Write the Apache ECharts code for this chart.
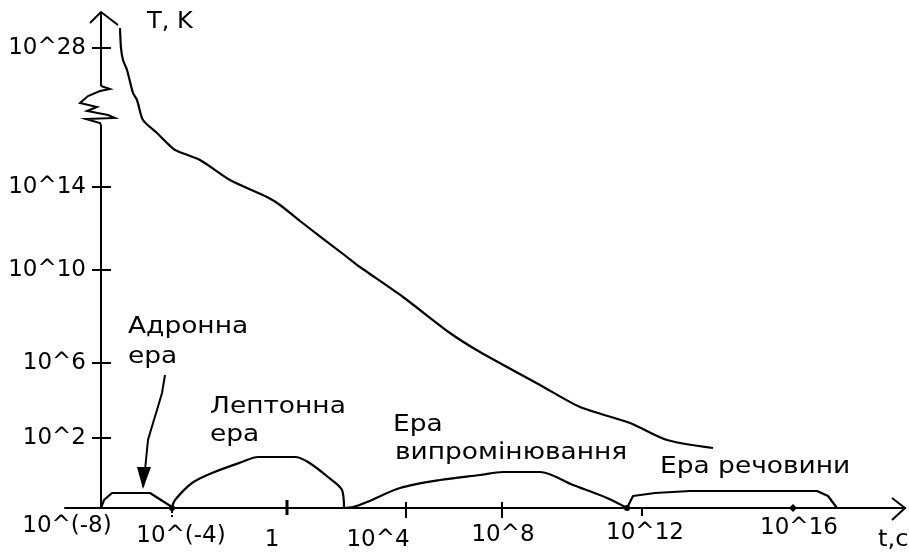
<!DOCTYPE html>
<html><head><meta charset="utf-8">
<script src="https://cdn.jsdelivr.net/npm/echarts@6/dist/echarts.min.js"></script>
<style>html,body{margin:0;padding:0;background:#fff}#c{width:909px;height:560px}</style>
</head><body><div id="c"></div>
<script>
// ---- data (nominal drawing scale of the hand-drawn log-log sketch) ----
const xTickValues = [0, 71, 186, 305, 401, 541, 692];
const xTickLabels = ['10^(-8)', '10^(-4)', '1', '10^4', '10^8', '10^12', '10^16'];
const yTickValues = [70, 145, 238, 321, 460];
const yTickLabels = ['10^2', '10^6', '10^10', '10^14', '10^28'];

// temperature T(t)
const tempX = [19, 20, 22, 26, 32, 36, 42, 56, 66, 74, 99, 129, 166, 179, 199, 246, 259, 302, 349, 379, 439, 479, 529, 566, 612];
const tempY = [480, 460, 448, 438, 415, 408, 388, 375, 365, 358, 348, 328, 311, 303, 287, 251, 241, 211, 175, 156, 123, 101, 85, 68, 60];

// eras
const hadronX = [0, 3, 11, 49, 71];
const hadronY = [0, 8, 15, 15, 1];
const leptonX = [71, 74, 91, 111, 141, 157, 194, 207, 227, 241, 243];
const leptonY = [1, 8, 25, 35, 46, 51, 51, 46, 31, 18, 0];
const radiationX = [243, 252, 266, 299, 339, 379, 402, 439, 472, 506, 526];
const radiationY = [0, 1, 6, 20, 28, 33, 36, 36, 23, 10, 0];
const matterX = [526, 532, 554, 589, 716, 727, 736];
const matterY = [0, 12, 15, 17, 17, 12, 0];

const eraLabels = ['Адронна', 'ера', 'Лептонна', 'ера', 'Ера', 'випромінювання', 'Ера речовини'];
const eraLabelX = [27, 27, 109, 109, 292, 294, 559];
const eraLabelY = [181, 151, 101, 73, 83, 55, 41];

const pointerX = [64, 61, 56, 52, 47, 46, 44, 42];
const pointerY = [133, 115, 98, 85, 68, 58, 38, 21];

const yAxisTitle = 'T, K';
const xAxisTitle = 't,c';

// ---- chart ----
const FONT = 'DejaVu Sans';
const INK = '#000';
const zip = (a, b) => a.map((v, i) => [v, b[i]]);
const curve = (name, xs, ys, smooth) => ({
  type: 'line', name, data: zip(xs, ys), symbol: 'none', showSymbol: false, smooth: smooth || false,
  lineStyle: { color: '#000', width: 2.2 }, clip: false, z: 3, silent: true
});

const xShift = [[-34, 0], [9, 10], [-15, 14], [-28, 14], [1, 9], [3, 7], [6, 2]];
const rich = {};
xShift.forEach(([dx, dy], i) => {
  rich['l' + i] = {
    fontFamily: FONT, fontSize: 23, color: INK,
    padding: [dy, dx < 0 ? -2 * dx : 0, 0, dx > 0 ? 2 * dx : 0]
  };
});

function renderDecor(params, api) {
  const P = (x, y) => api.coord([x, y]);
  const ch = [];
  const seg = (a, b, w, dash) => ch.push({ type: 'line', shape: { x1: a[0], y1: a[1], x2: b[0], y2: b[1] },
    style: { stroke: '#000', lineWidth: w || 2, lineDash: dash || null } });
  const poly = (pts, w) => ch.push({ type: 'polyline', shape: { points: pts }, style: { stroke: '#000', lineWidth: w || 2, fill: null } });
  const text = (str, p, sx, align, va) => ch.push({ type: 'text', x: p[0], y: p[1], scaleX: sx,
    style: { text: str, fontFamily: FONT, fontSize: 23, fill: INK, align: align || 'left', verticalAlign: va || 'middle',
      textAlign: align || 'left', textVerticalAlign: va || 'middle' } });

  // y axis with break
  seg(P(0, 0), P(0, 383));
  seg(P(0, 422), P(0, 496));
  poly([P(0, 422), P(9, 419), P(-1, 417), P(-13, 412), P(-21, 405), P(-4, 401), P(-14, 397), P(7, 393), P(14, 390), P(-15, 389), P(-1, 385), P(0, 383)], 2);
  // arrows (open chevrons)
  poly([P(-11, 485), P(0, 496), P(17, 483)], 2);
  poly([P(791, 10), P(804, 0), P(791, -12)], 2);
  // y ticks
  yTickValues.forEach(v => seg(P(-9, v), P(10, v)));
  // x ticks
  xTickValues.forEach((v, i) => {
    if (i === 1) {
      ch.push({ type: 'circle', shape: { cx: P(v, 0)[0], cy: P(v, 0)[1], r: 3 }, style: { fill: '#000' } });
      seg(P(v, -3), P(v, -10), 2, [2, 2]);
    } else if (i === 2) {
      seg(P(v, 8), P(v, -7), 3);
    } else if (i === 3 || i === 4) {
      seg(P(v, 6), P(v, -10));
    } else if (i === 5) {
      seg(P(v, 0), P(v, -8));
    } else if (i === 6) {
      const c = P(v, 0);
      ch.push({ type: 'polygon', shape: { points: [[c[0] - 4, c[1]], [c[0], c[1] - 4], [c[0] + 4, c[1]], [c[0], c[1] + 4]] }, style: { fill: '#000' } });
    }
  });
  // junction dot between radiation and matter eras
  const d = P(radiationX[radiationX.length - 1], 0);
  ch.push({ type: 'circle', shape: { cx: d[0], cy: d[1], r: 3 }, style: { fill: '#000' } });
  // pointer arrow to hadron era
  poly(pointerX.map((x, i) => P(x, pointerY[i])), 2);
  const tip = P(pointerX[pointerX.length - 1], pointerY[pointerY.length - 1]);
  ch.push({ type: 'polygon', shape: { points: [[tip[0] - 6, tip[1] - 20], [tip[0] + 8, tip[1] - 20], [tip[0], tip[1] + 2]] }, style: { fill: '#000' } });
  // era labels
  eraLabels.forEach((s, i) => text(s, P(eraLabelX[i], eraLabelY[i]), 1.15));
  // axis titles
  text(yAxisTitle, P(46, 486), 1.05);
  text(xAxisTitle, P(777, -32), 1.05);
  return { type: 'group', children: ch };
}

const chart = echarts.init(document.getElementById('c'));
chart.setOption({
  animation: false,
  backgroundColor: '#fff',
  grid: { left: 65, right: 4, top: 12, bottom: 52, containLabel: false, outerBoundsMode: 'none' },
  xAxis: {
    type: 'value', min: -36, max: 804,
    axisLine: { show: true, onZero: true, lineStyle: { color: '#000', width: 2 } },
    axisTick: { show: false }, splitLine: { show: false },
    axisLabel: {
      customValues: xTickValues, margin: 7, color: INK, fontFamily: FONT, fontSize: 23,
      formatter: v => { const i = xTickValues.indexOf(v); return '{l' + i + '|' + xTickLabels[i] + '}'; },
      rich
    }
  },
  yAxis: {
    type: 'value', min: 0, max: 496, offset: -36,
    axisLine: { show: false, onZero: false },
    axisTick: { show: false }, splitLine: { show: false },
    axisLabel: {
      customValues: yTickValues, margin: 15, color: INK, fontFamily: FONT, fontSize: 23,
      formatter: v => yTickLabels[yTickValues.indexOf(v)]
    }
  },
  series: [
    curve('T', tempX, tempY, 0.25),
    curve('Адронна ера', hadronX, hadronY),
    curve('Лептонна ера', leptonX, leptonY, 0.3),
    curve('Ера випромінювання', radiationX, radiationY, 0.3),
    curve('Ера речовини', matterX, matterY),
    { type: 'custom', name: 'decor', data: [[0, 0]], renderItem: renderDecor, clip: false, silent: true, z: 4 }
  ]
});
</script>
</body></html>
